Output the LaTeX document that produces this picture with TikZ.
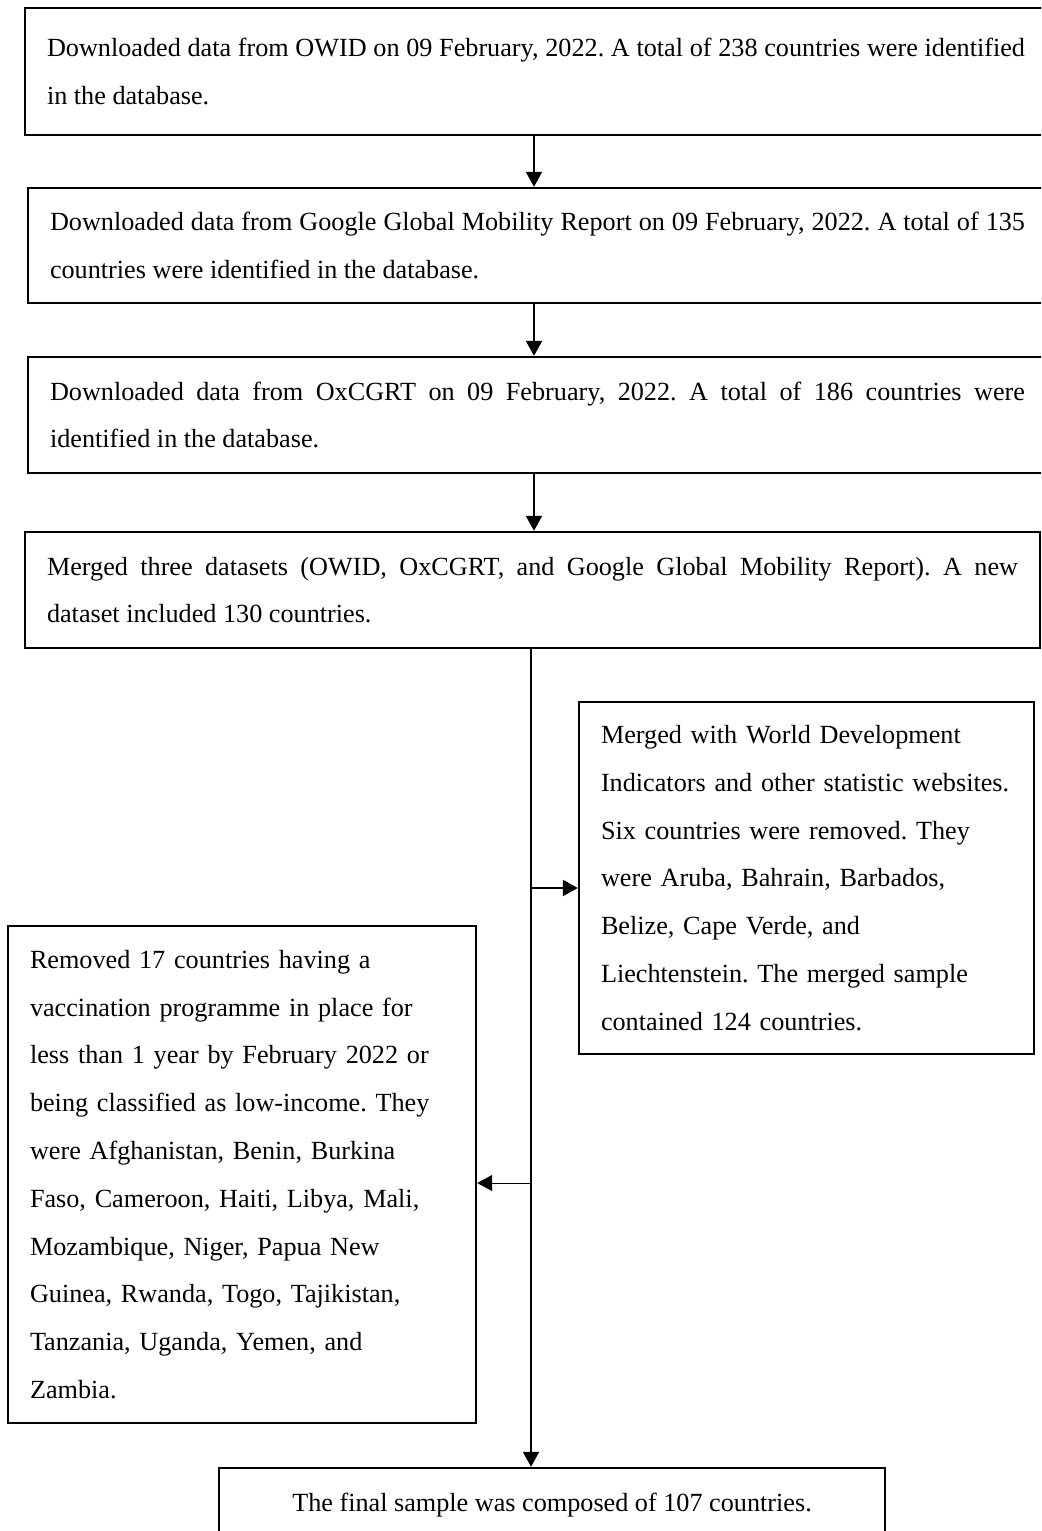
\documentclass[tikz,border=0pt]{standalone}
\usepackage{fontspec}
\setmainfont{Liberation Serif}
\usetikzlibrary{arrows.meta}
\frenchspacing

\begin{document}
\begin{tikzpicture}[x=0.5pt,y=-0.5pt,
    box/.style={draw,line width=1.2pt,inner xsep=11pt,inner ysep=0pt,font=\fontsize{13.1}{23.9}\selectfont},
    topbox/.style={box,align=justify},
    sidebox/.style={box,align=left},
    arr/.style={line width=1pt,-{Triangle[width=8pt,length=7.5pt]}}]
    \clip (0,0) rectangle (1041,1531);
    \node[topbox,minimum width=511pt,minimum height=63.5pt,text width=489pt] (b1) at (536,71.5)
        {Downloaded data from OWID on 09 February, 2022. A total of 238 countries were identified\linebreak in the database.};
    \node[topbox,minimum width=509.5pt,minimum height=57.5pt,text width=487.5pt] (b2) at (537.5,245.5)
        {Downloaded data from Google Global Mobility Report on 09 February, 2022. A total of 135\linebreak countries were identified in the database.};
    \node[topbox,minimum width=509.5pt,minimum height=58pt,text width=487.5pt] (b3) at (537.5,415)
        {Downloaded data from OxCGRT on 09 February, 2022. A total of 186 countries were\linebreak identified in the database.};
    \node[topbox,minimum width=507.5pt,minimum height=58pt,text width=485.5pt] (b4) at (532.5,590)
        {Merged three datasets (OWID, OxCGRT, and Google Global Mobility Report). A new\linebreak dataset included 130 countries.};
    \node[sidebox,minimum width=227.5pt,minimum height=176pt,text width=205.5pt] (r) at (806.5,878)
        {Merged with World Development\\ Indicators and other statistic websites.\\ Six countries were removed. They\\ were Aruba, Bahrain, Barbados,\\ Belize, Cape Verde, and\\ Liechtenstein. The merged sample\\ contained 124 countries.};
    \node[sidebox,minimum width=234pt,minimum height=248.5pt,text width=212pt] (l) at (242,1174.5)
        {Removed 17 countries having a\\ vaccination programme in place for\\ less than 1 year by February 2022 or\\ being classified as low-income. They\\ were Afghanistan, Benin, Burkina\\ Faso, Cameroon, Haiti, Libya, Mali,\\ Mozambique, Niger, Papua New\\ Guinea, Rwanda, Togo, Tajikistan,\\ Tanzania, Uganda, Yemen, and\\ Zambia.};
    \node[box,align=center,minimum width=333pt,minimum height=37.5pt] (f) at (552,1505.5)
        {The final sample was composed of 107 countries.};
    \coordinate (t) at (534,0);
    \coordinate (jr) at (531,888);
    \coordinate (jl) at (531,1183);
    \foreach \a/\b in {b1/b2, b2/b3, b3/b4} {\draw[arr] (\a.south -| t) -- (\b.north -| t);}
    \draw[arr] (b4.south -| jr) -- (f.north -| jr);
    \draw[arr] (jr) -- (r.west |- jr);
    \draw[arr,line width=0.5pt] (jl) -- (l.east |- jl);
\end{tikzpicture}
\end{document}
